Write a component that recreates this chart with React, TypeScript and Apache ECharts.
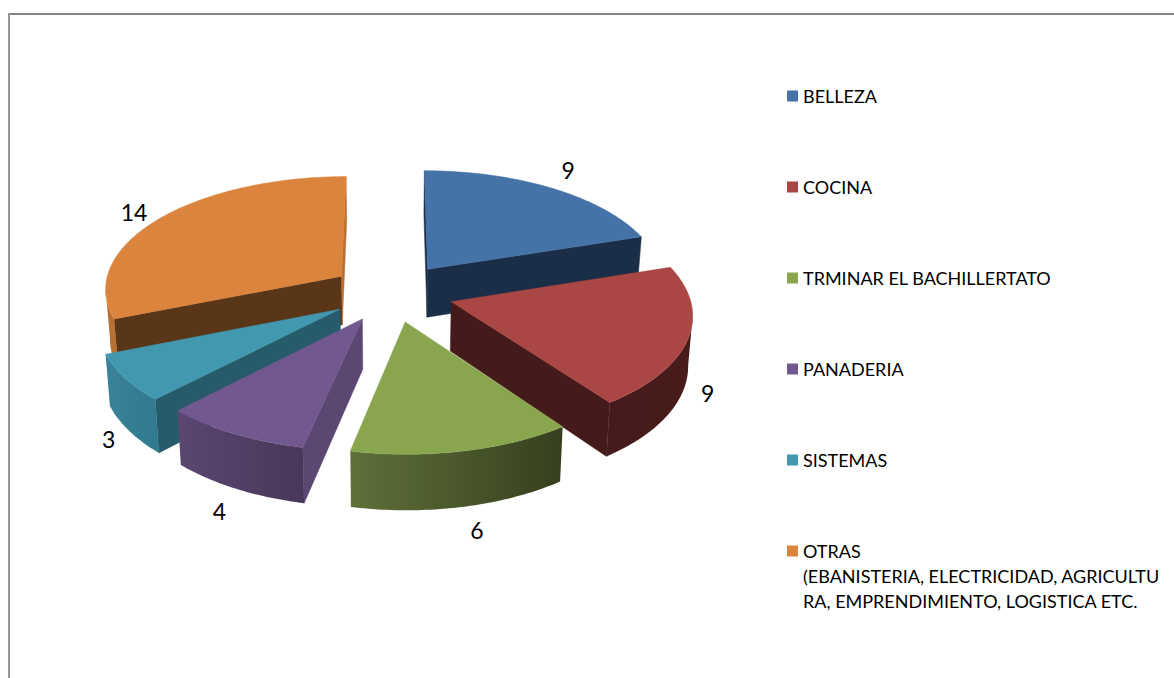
import React, { useEffect, useRef } from "react";
import * as echarts from "echarts";

const categories = ["BELLEZA", "COCINA", "TRMINAR EL BACHILLERTATO", "PANADERIA", "SISTEMAS", "OTRAS"];
const values = [9, 9, 6, 4, 3, 14];
const otrasDetail = ["(EBANISTERIA, ELECTRICIDAD, AGRICULTU", "RA, EMPRENDIMIENTO, LOGISTICA ETC."];

const topColors = ["#4572A7", "#AA4643", "#89A54E", "#71588F", "#4198AF", "#DB843D"];
const rimLeft = ["#1B2E47", "#451A1A", "#5F7038", "#5B4672", "#3A8299", "#B86F31"];
const rimRight = ["#1B2E47", "#491C1B", "#363F1E", "#483758", "#2F7A8F", "#B86F31"];
const wallStart = ["#1B2E47", "#451A1A", "#4A5A2A", "#5C4672", "#275B6B", "#5A3618"];
const wallEnd = ["#1B2E47", "#451A1A", "#4A5A2A", "#5C4672", "#275B6B", "#B86F31"];
const drawOrder = [1, 3, 6, 5, 4, 2];
const labelRadius = [1.18, 1.07, 1.17, 1.12, 1.05, 1.1];
const labelShift = [[-4, -5], [7, 1], [4, -3], [0, 6], [-9, 4], [-9, -1]];

const CX = 392, CY = 292.5, R = 240, EXPLODE = 0.26 * R, TILT = 0.47, PERSP = 0.1, HEIGHT = 49, XSCALE = 0.99;
const FONT = "Lato, Carlito, Calibri, sans-serif";
const total = values.reduce((a, b) => a + b, 0);

function project(u: number, v: number, down: boolean): [number, number] {
  const s = 1 / (1 + (PERSP * v) / R);
  let x = CX + u * s * XSCALE;
  let y = CY - v * TILT * s;
  if (down) {
    x = CX + (x - CX) * 0.985;
    y += HEIGHT * s;
  }
  return [x, y];
}

function makeRender(i: number) {
  return (_params: any, api: any) => {
    const value = api.value(0);
    const before = values.slice(0, i).reduce((a, b) => a + b, 0);
    const a0 = (before / total) * Math.PI * 2;
    const a1 = a0 + (value / total) * Math.PI * 2;
    const mid = (a0 + a1) / 2;
    const ou = EXPLODE * Math.sin(mid);
    const ov = EXPLODE * Math.cos(mid);
    const rim = (a: number, f: number, down: boolean) =>
      project(ou + R * f * Math.sin(a), ov + R * f * Math.cos(a), down);

    const apexT = project(ou, ov, false);
    const apexB = project(ou, ov, true);
    const n = Math.max(8, Math.round((a1 - a0) * 60));
    const angles: number[] = [];
    for (let k = 0; k <= n; k++) angles.push(a0 + ((a1 - a0) * k) / n);
    const topPts = angles.map((a) => rim(a, 1, false));
    const midPt = rim(mid, 1, false);
    const children: any[] = [];

    const wall = (a: number, color: string) => {
      const p = rim(a, 1, false);
      const q = rim(a, 1, true);
      const ex = p[0] - apexT[0], ey = p[1] - apexT[1];
      const sideDown = ex * (q[1] - apexT[1]) - ey * (q[0] - apexT[0]);
      const sideIn = ex * (midPt[1] - apexT[1]) - ey * (midPt[0] - apexT[0]);
      if (sideDown * sideIn < 0) {
        children.push({
          type: "polygon",
          shape: { points: [apexT, p, q, apexB] },
          style: { fill: color, stroke: color, lineWidth: 0.5 },
        });
      }
    };
    wall(a0, wallStart[i]);
    wall(a1, wallEnd[i]);

    let run: number[] = [];
    const flush = () => {
      if (run.length > 1) {
        const upper = run.map((a) => rim(a, 1, false));
        const lower = run.map((a) => rim(a, 1, true)).reverse();
        children.push({
          type: "polygon",
          shape: { points: upper.concat(lower) },
          style: {
            fill: new echarts.graphic.LinearGradient(0, 0, 1, 0, [
              { offset: 0, color: rimLeft[i] },
              { offset: 1, color: rimRight[i] },
            ]),
          },
        });
      }
      run = [];
    };
    for (let k = 0; k < n; k++) {
      if (topPts[k + 1][0] < topPts[k][0]) {
        if (!run.length) run.push(angles[k]);
        run.push(angles[k + 1]);
      } else flush();
    }
    flush();

    children.push({
      type: "polygon",
      shape: { points: [apexT, ...topPts] },
      style: { fill: topColors[i], stroke: topColors[i], lineWidth: 0.5 },
    });

    const lv = ov + R * labelRadius[i] * Math.cos(mid);
    const lp = rim(mid, labelRadius[i], lv < 0);
    children.push({
      type: "text",
      z2: 100,
      style: {
        text: String(value),
        x: lp[0] + labelShift[i][0],
        y: lp[1] + labelShift[i][1],
        fill: "#000000",
        font: `23px ${FONT}`,
        textAlign: "center",
        textVerticalAlign: "middle",
      },
    });
    return { type: "group", children };
  };
}

export default function App() {
  const ref = useRef<HTMLDivElement>(null);
  useEffect(() => {
    document.body.style.margin = "0";
    document.body.style.background = "#ffffff";
    const chart = echarts.init(ref.current!, undefined, { renderer: "svg" });
    chart.setOption({
      animation: false,
      backgroundColor: "#ffffff",
      legend: {
        orient: "vertical",
        left: 782,
        top: 81,
        itemWidth: 11,
        itemHeight: 11,
        itemGap: 71,
        icon: "rect",
        selectedMode: false,
        data: categories,
        textStyle: { fontFamily: FONT, fontSize: 18, color: "#000000", lineHeight: 20 },
      },
      graphic: [
        { type: "rect", shape: { x: 8, y: 13, width: 1166, height: 2 }, style: { fill: "#868686" } },
        { type: "rect", shape: { x: 8, y: 13, width: 2, height: 665 }, style: { fill: "#969696" } },
        ...otrasDetail.map((line, k) => ({
          type: "text",
          style: {
            text: line,
            x: 803,
            y: 576 + k * 25,
            fill: "#000000",
            font: `18px ${FONT}`,
            textVerticalAlign: "middle",
          },
        })),
      ],
      series: categories.map((name, i) => ({
        type: "custom",
        name,
        coordinateSystem: "none",
        z: drawOrder[i],
        itemStyle: { color: topColors[i] },
        data: [values[i]],
        renderItem: makeRender(i),
      })),
    });
    return () => chart.dispose();
  }, []);
  return <div ref={ref} style={{ width: 1174, height: 678 }} />;
}
